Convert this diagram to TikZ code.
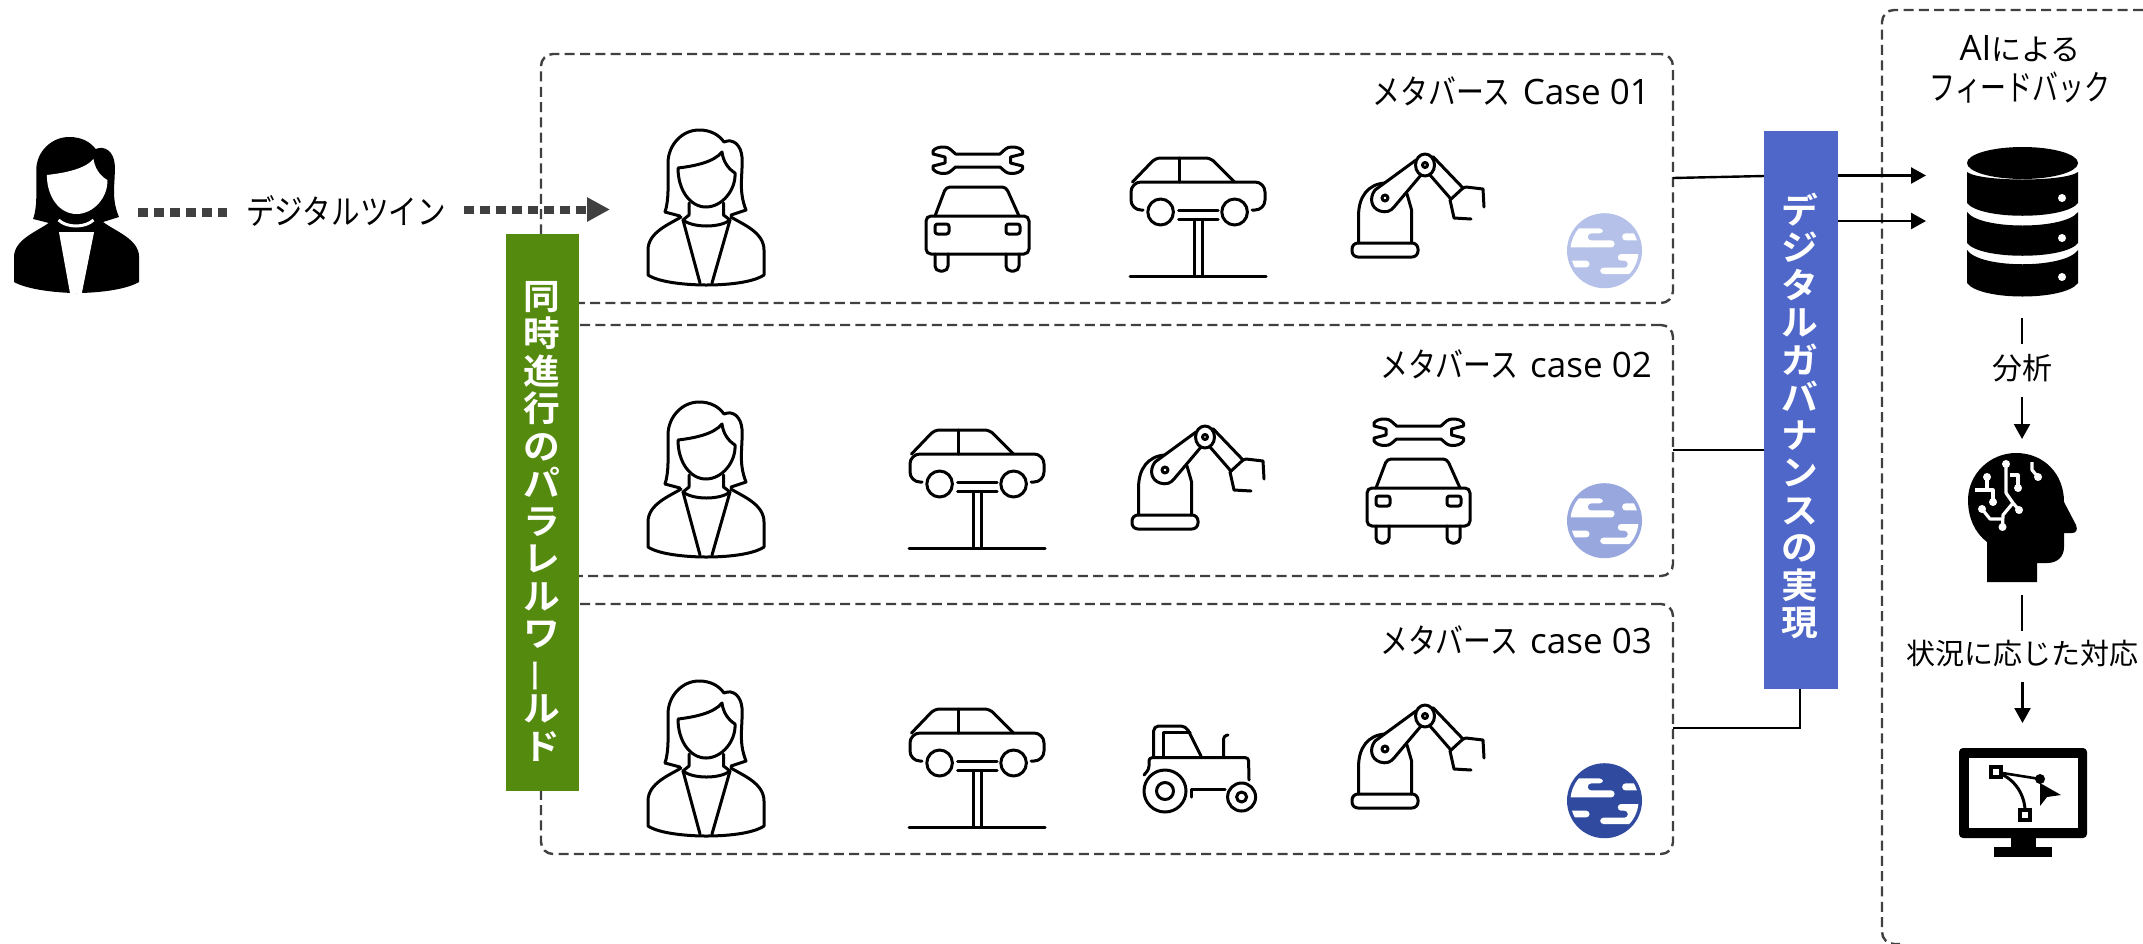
\documentclass[tikz,border=0pt]{standalone}
\usepackage{fontspec}
\setmainfont{Noto Sans CJK JP}
\newfontfamily\latinf{Open Sans}
\newfontfamily\boldjp{Noto Sans CJK JP Bold}
\usetikzlibrary{arrows.meta}
\definecolor{dk}{HTML}{404040}
\definecolor{grn}{HTML}{548A0E}
\definecolor{blu}{HTML}{4F67C8}
\definecolor{pa}{HTML}{B5C1E8}
\definecolor{pb}{HTML}{98A8DF}
\definecolor{pc}{HTML}{2F4A9F}
\newcommand{\narrowjp}[2][0.82]{\scalebox{#1}[1]{#2}}
\tikzset{
  icon/.style={line width=3pt,line join=round,line cap=round,draw=black},
  dbox/.style={draw=dk,line width=2.4pt,dash pattern=on 10pt off 5.3pt,rounded corners=12pt,rectangle,inner sep=0pt},
  conn/.style={draw=black,line width=2.4pt},
  tip/.style={-{Triangle[length=15pt,width=16pt]}},
  fat/.style={draw=dk,dash pattern=on 10pt off 6pt},
  lab/.style={inner sep=0pt,font=\fontsize{34}{38}\selectfont,align=center},
  side/.style={inner sep=0pt,text=white,align=center,xscale=1.05,transform shape,font=\boldjp\fontsize{35}{37.5}\selectfont},
  pics/personline/.style={code={
    \draw[icon] (665,212) .. controls (669,200) and (668,185) .. (668,163) .. controls (668,145) and (682,130) .. (699,130) .. controls (711,130) and (719,135) .. (724,142) .. controls (733,138) and (741,145) .. (742,157) .. controls (743,175) and (738,190) .. (746,210) -- (731,215);
    \draw[icon] (665,212) -- (680,216);
    \draw[icon] (678,168) .. controls (695,166) and (714,162) .. (722,152) .. controls (723,160) and (727,168) .. (735,173) .. controls (736,190) and (722,207) .. (706,207) .. controls (690,207) and (678,190) .. (678,168);
    \draw[icon] (689,203) -- (689,215) -- (683,220) .. controls (693,228) and (720,228) .. (730,220) -- (723.5,215) -- (723.5,203);
    \draw[icon] (681,217) .. controls (670,224) and (648,232) .. (648,250) -- (648,275) .. controls (660,283) and (690,285) .. (706,285) .. controls (725,285) and (752,283) .. (764,275) -- (764,250) .. controls (764,232) and (742,224) .. (731,217);
    \draw[icon] (683,220) -- (700,283) (730,220) -- (712,283);
  }},
  pics/carfront/.style={code={
    \draw[icon] (955.5,154) .. controls (951,150) and (949,147) .. (944,147) .. controls (939,147) and (935,148) .. (933,151) -- (933,154) -- (945,157) -- (945,163) -- (933,166) -- (933,169) .. controls (935,172) and (939,173.5) .. (944,173.5) .. controls (949,173.5) and (951,171) .. (955.5,167) -- (1000,167) .. controls (1004.5,171) and (1006.5,173.5) .. (1011.5,173.5) .. controls (1016.5,173.5) and (1020.5,172) .. (1022.5,169) -- (1022.5,166) -- (1010.5,163) -- (1010.5,157) -- (1022.5,154) -- (1022.5,151) .. controls (1020.5,148) and (1016.5,147) .. (1011.5,147) .. controls (1006.5,147) and (1004.5,150) .. (1000,154) -- cycle;
    \draw[icon,rounded corners=5pt] (926,216) rectangle (1029,254);
    \draw[icon,rounded corners=4pt] (935,216) -- (946,187) -- (1006,187) -- (1019,216);
    \draw[icon,rounded corners=2.5pt] (935,224) rectangle (949,234) (1006,224) rectangle (1020,234);
    \draw[icon,rounded corners=5pt] (935,254) -- (935,271) -- (948,271) -- (948,254);
    \draw[icon,rounded corners=5pt] (1006,254) -- (1006,271) -- (1019,271) -- (1019,254);
  }},
  pics/liftcar/.style={code={
    \draw[icon,rounded corners=5pt] (1132.5,182) -- (1155.5,158) -- (1210.6,158) -- (1234.6,182);
    \draw[icon] (1179.5,158) -- (1179.5,182);
    \draw[icon,rounded corners=10pt] (1143,210) -- (1131,210) -- (1131,182) -- (1265,182) -- (1265,210) -- (1252,210);
    \draw[icon] (1160.6,212) circle[x radius=12.8pt,y radius=13pt] (1234.6,212) circle[x radius=12.8pt,y radius=13pt];
    \draw[icon] (1178.5,210) -- (1218,210) (1178.5,219) -- (1218,219);
    \draw[icon] (1194,220) -- (1194,276) (1202.5,220) -- (1202.5,276);
    \draw[icon] (1130,276) -- (1266,276);
  }},
  pics/robot/.style={code={
    \draw[icon,rounded corners=6pt] (1352,257) -- (1352,243) -- (1418,243) -- (1418,257) -- cycle;
    \draw[icon] (1358.6,243) -- (1358.6,215) .. controls (1358.6,197) and (1368,184) .. (1385,183);
    \draw[icon] (1411.6,243) -- (1411.6,210) -- (1407,194);
    \draw[icon,fill=white] (1416,160) -- (1375,190) .. controls (1369,198) and (1371,208) .. (1380,211) .. controls (1386,213) and (1391,211) .. (1394,207) -- (1421,175) -- cycle;
    \draw[icon] (1385,198) circle[radius=3pt];
    \draw[icon] (1433,156.7) -- (1463,188) (1430,175) -- (1450,198);
    \draw[icon] (1463,188) -- (1450,200);
    \draw[icon,fill=white] (1425,165) circle[x radius=9.5pt,y radius=11pt];
    \draw[icon] (1425,165) circle[radius=2.5pt];
    \draw[icon] (1463,188) -- (1466,187) -- (1483,189) -- (1484,207);
    \draw[icon] (1450,200) -- (1454,218) -- (1471,219);
  }},
  pics/tractor/.style={code={
    \draw[icon] (1165,791) circle[radius=21pt] (1165,791) circle[radius=8.5pt];
    \draw[icon] (1241.6,797) circle[radius=14pt] (1241.6,797) circle[radius=5pt];
    \draw[icon,rounded corners=3pt] (1144,775) -- (1149,769) -- (1149,757.7) -- (1248.5,757.7) -- (1249,780);
    \draw[icon] (1191,797) -- (1191,789) -- (1225,789);
    \draw[icon,rounded corners=5pt] (1153.6,757) -- (1153.6,726) -- (1186,726) -- (1201,756);
    \draw[icon] (1163.5,757) -- (1163.5,732.7) -- (1190,732.7);
    \draw[icon,rounded corners=3pt] (1223.6,757) -- (1223.6,736) -- (1228,735);
  }},
  pics/planet/.style={code={
    \fill[#1] (1604.5,250.7) circle[radius=37.5pt];
    \begin{scope}[shift={(1604.5,250.7)}]
      \clip (0,0) circle[radius=34pt];
      \fill[white,rounded corners=3.3pt] (-40,-22.3) -- (-1.7,-22.3) -- (-1.7,-17.3) -- (-16.7,-17.3) -- (-16.7,-10.3) -- (10,-10.3) -- (10,-3.3) -- (-40,-3.3) -- cycle;
      \fill[white,rounded corners=3.3pt] (17.7,-17.3) -- (40,-17.3) -- (40,-10.3) -- (17.7,-10.3) -- cycle;
      \fill[white,rounded corners=3.3pt] (-40,10) -- (-15,10) -- (-15,16.7) -- (-40,16.7) -- cycle;
      \fill[white,rounded corners=3.3pt] (13.3,3.3) -- (40,3.3) -- (40,23.3) -- (-4.3,23.3) -- (-4.3,17) -- (23.3,17) -- (23.3,10) -- (13.3,10) -- cycle;
    \end{scope}
  }},
}
\begin{document}
\begin{tikzpicture}[x=1pt,y=-1pt]
\useasboundingbox (0,0) rectangle (2143,943);
\fill[white] (0,0) rectangle (2143,943);

% dashed frames
\node[dbox,minimum width=1132pt,minimum height=249pt] (box1) at (1107,178.5) {};
\node[dbox,minimum width=1132pt,minimum height=251pt] (box2) at (1107,450.5) {};
\node[dbox,minimum width=1132pt,minimum height=250pt] (box3) at (1107,729) {};
\draw[draw=dk,line width=2.4pt,dash pattern=on 10pt off 5.3pt,rounded corners=12pt] (2143,10) -- (1882,10) -- (1882,944) -- (1900,944);

% connectors
\coordinate (a1) at (1673,178);
\coordinate (a2) at (1764,176);
\coordinate (b1) at (1838,175.5);
\coordinate (b2) at (1926,175.5);
\coordinate (c1) at (1838,221);
\coordinate (c2) at (1926,221);
\coordinate (d1) at (1673,450);
\coordinate (d2) at (1764,450);
\coordinate (e1) at (1673,728);
\coordinate (e2) at (1800,728);
\coordinate (e3) at (1800,689);
\draw[conn] (a1) -- (a2);
\draw[conn] (d1) -- (d2);
\draw[conn] (e1) -- (e2) -- (e3);
\draw[conn,tip] (b1) -- (b2);
\draw[conn,tip] (c1) -- (c2);

% bars
\node[fill=grn,minimum width=73pt,minimum height=557pt,inner sep=0pt] (green) at (542.5,512.5) {};
\node[side] (greent) at (542,521) {同\\時\\進\\行\\の\\パ\\ラ\\レ\\ル\\ワ\\{\normalfont\rotatebox[origin=c]{90}{ー}}\\ル\\ド};
\node[fill=blu,minimum width=74pt,minimum height=558pt,inner sep=0pt] (blue) at (1801,410) {};
\node[side] (bluet) at (1800,416) {デ\\ジ\\タ\\ル\\ガ\\バ\\ナ\\ン\\ス\\の\\実\\現};

% twin arrow
\node[lab] (twin) at (346,211) {\narrowjp[0.84]{デジタルツイン}};
\coordinate (p1) at (138,212.5);
\coordinate (p2) at (227,212.5);
\coordinate (q1) at (464,209.5);
\coordinate (q2) at (610,209.5);
\draw[fat,line width=9pt] (p1) -- (p2);
\draw[fat,line width=8pt,-{Triangle[length=23pt,width=23pt,fill=dk]}] (q1) -- (q2);

% solid person
\begin{scope}[shift={(-671.8,7)},xscale=1.06]
  \fill[black] (665,212) .. controls (669,200) and (668,185) .. (668,163) .. controls (668,145) and (682,130) .. (699,130) .. controls (711,130) and (719,135) .. (724,142) .. controls (733,138) and (741,145) .. (742,157) .. controls (743,175) and (738,190) .. (746,210) -- (731,215) -- (680,216) -- cycle;
  \fill[black] (681,215) .. controls (670,224) and (647,232) .. (647,250) -- (647,275) .. controls (660,283) and (690,286) .. (706,286) .. controls (725,286) and (752,283) .. (765,275) -- (765,250) .. controls (765,232) and (742,224) .. (731,215) -- cycle;
  \fill[white] (678,168) .. controls (695,166) and (714,162) .. (722,152) .. controls (723,160) and (727,168) .. (735,173) .. controls (736,190) and (722,207) .. (706,207) .. controls (690,207) and (678,190) .. (678,168) -- cycle;
  \draw[white,line width=3pt] (689,213) .. controls (697,221) and (714,221) .. (722,213);
  \fill[white] (689.4,225) -- (722.5,225) -- (711,286) -- (699.8,286) -- cycle;
\end{scope}

% scene 1
\pic at (0,0) {personline};
\pic at (0,0) {carfront};
\pic at (0,0) {liftcar};
\pic at (0,0) {robot};
\pic at (0,0) {planet=pa};
\node[lab,anchor=east] (t1) at (1650,91) {\narrowjp{メタバース}\hspace{12pt}{\latinf\fontsize{35}{38}\selectfont Case 01}};
% scene 2
\pic at (0,272) {personline};
\pic at (-221,272) {liftcar};
\pic at (-220,272) {robot};
\pic at (441,272) {carfront};
\pic at (0,270) {planet=pb};
\node[lab,anchor=east] (t2) at (1652,364) {\narrowjp{メタバース}\hspace{12pt}{\latinf\fontsize{35}{38}\selectfont case 02}};
% scene 3
\pic at (0,551) {personline};
\pic at (-221,551) {liftcar};
\pic at (0,0) {tractor};
\pic at (0,551) {robot};
\pic at (0,550) {planet=pc};
\node[lab,anchor=east] (t3) at (1652,640) {\narrowjp{メタバース}\hspace{12pt}{\latinf\fontsize{35}{38}\selectfont case 03}};

% feedback column
\node[lab,font=\fontsize{35}{40}\selectfont] (ai) at (2020,69) {{\latinf AI}{\fontsize{30}{40}\selectfont による}\\\narrowjp[0.74]{フィードバック}};
% database
\fill[black] (2022.5,163) circle[x radius=55.5pt,y radius=16pt];
\fill[black] (1967,172) .. controls (1980,182) and (2065,182) .. (2078,172) -- (2078,203) .. controls (2065,220) and (1980,220) .. (1967,203) -- cycle;
\fill[black] (1967,212) .. controls (1980,230) and (2065,230) .. (2078,212) -- (2078,243) .. controls (2065,260) and (1980,260) .. (1967,243) -- cycle;
\fill[black] (1967,250) .. controls (1980,269) and (2065,269) .. (2078,250) -- (2078,283) .. controls (2065,301) and (1980,301) .. (1967,283) -- cycle;
\fill[white] (2062,198) circle[radius=4pt] (2062,238) circle[radius=4pt] (2062,277) circle[radius=4pt];
% analysis flow
\node[lab,font=\fontsize{30}{36}\selectfont] (ana) at (2022,368) {分析};
\coordinate (f1) at (2022,318);
\coordinate (f2) at (2022,344);
\coordinate (f3) at (2022,397);
\coordinate (f4) at (2022,439);
\draw[conn] (f1) -- (f2);
\draw[conn,tip] (f3) -- (f4);
% head
\fill[black] (1987,582) -- (1987,542) .. controls (1975,533) and (1968,518) .. (1968,500) .. controls (1968,474) and (1990,453) .. (2016,453) .. controls (2044,453) and (2064,474) .. (2064,502) -- (2076,525) .. controls (2078,530) and (2076,533) .. (2072,533) -- (2064,533) -- (2064,547) .. controls (2064,557) and (2057,563) .. (2047,563) -- (2037,563) -- (2037,582) -- cycle;
\draw[white,line width=3.2pt,line join=round] (2006,464) -- (2006,493) -- (2013,503) -- (2019,510);
\draw[white,line width=3.2pt,line join=round] (2013,503) -- (2003,515) -- (2002.5,527);
\draw[white,line width=3.2pt,line join=round] (1982,509) -- (1990,519) -- (2002,519);
\draw[white,line width=3.2pt,line join=round] (1987,477) -- (1987,490) (1975,490) -- (1993,490) -- (1993,502);
\draw[white,line width=3.2pt,line join=round] (2010,475) -- (2018,475) -- (2018,488);
\draw[white,line width=3.2pt,line join=round] (2032,462) -- (2032,470) -- (2038,477);
\fill[white] (2006,464) circle[radius=4pt] (2019,510) circle[radius=4pt] (2002.5,527) circle[radius=4pt] (1982,509) circle[radius=4pt] (1987,477) circle[radius=4pt] (1993,502) circle[radius=4pt] (2018,488) circle[radius=4pt] (2038,477) circle[radius=4pt];
% response flow
\node[lab,font=\fontsize{29}{36}\selectfont] (resp) at (2022,653) {状況に応じた対応};
\coordinate (g1) at (2022,595);
\coordinate (g2) at (2022,631);
\coordinate (g3) at (2022.5,682);
\coordinate (g4) at (2022.5,723);
\draw[conn] (g1) -- (g2);
\draw[conn,tip] (g3) -- (g4);
% monitor
\fill[black,rounded corners=4pt] (1959,748) rectangle (2087,838);
\fill[white] (1969,758) rectangle (2078,828);
\fill[black] (2011,838) rectangle (2036,847);
\fill[black] (1994,847) rectangle (2052,857);
\draw[black,line width=2.6pt] (1996,772) -- (2040,779);
\draw[black,line width=3pt] (1998,773) .. controls (2014,778) and (2026,795) .. (2025,814);
\draw[black,line width=3.2pt,fill=white] (1991,767) rectangle (2001,777);
\draw[black,line width=3.2pt,fill=white] (2020,810) rectangle (2030,820);
\fill[black] (2040,779) circle[radius=5pt];
\fill[black] (2040,783) -- (2061,795) -- (2047,797) -- (2040,806) -- cycle;
\end{tikzpicture}
\end{document}
